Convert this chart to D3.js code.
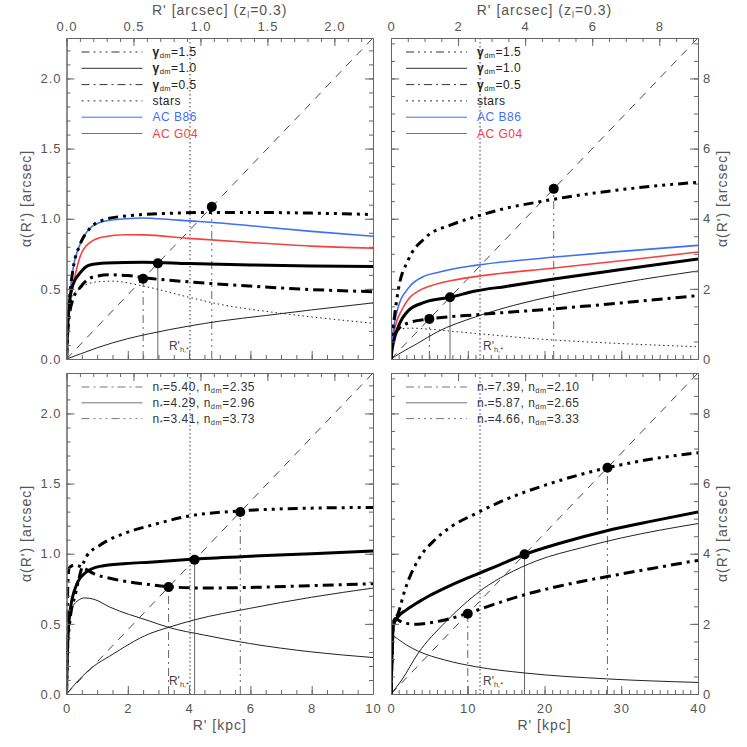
<!DOCTYPE html>
<html>
<head>
<meta charset="utf-8">
<script src="https://cdn.jsdelivr.net/npm/d3@7"></script>
<style>
  body { margin: 0; background: #fff; }
  text { font-family: "Liberation Sans", Arial, sans-serif; }
  .tick text { fill: #555; font-size: 13px; letter-spacing: 1px; }
  .tick line, .domain { stroke: #666; }
</style>
</head>
<body>
<div id="chart"></div>
<script>
// kpc per arcsec at z_l = 0.3
const kpcPerArcsec = 4.37;

// tick labels
const leftKpcTicks = [0, 2, 4, 6, 8, 10];
const rightKpcTicks = [0, 10, 20, 30, 40];
const leftArcTicks = [0, 0.5, 1, 1.5, 2];
const rightArcTicks = [0, 2, 4, 6, 8];

// top-left: [R' kpc, alpha arcsec]
const tlG15 = [[0,0],[0.05,0.3],[0.11,0.46],[0.22,0.65],[0.43,0.81],[0.76,0.93],[1.19,0.99],[1.95,1.02],[2.5,1.03],[3.5,1.04],[4.7,1.045],[6,1.045],[8,1.04],[10,1.03]];
const tlG10 = [[0,0],[0.05,0.27],[0.1,0.41],[0.21,0.53],[0.43,0.61],[0.76,0.67],[1.3,0.684],[2.5,0.69],[4,0.68],[6,0.67],[8,0.663],[10,0.66]];
const tlG05 = [[0,0],[0.05,0.22],[0.2,0.42],[0.43,0.505],[0.87,0.585],[1.41,0.6],[2,0.595],[2.5,0.58],[4,0.55],[6,0.52],[8,0.495],[10,0.48]];
const tlStars = [[0,0],[0.05,0.25],[0.1,0.37],[0.2,0.45],[0.43,0.5],[1,0.55],[1.5,0.555],[2.5,0.52],[4,0.44],[5,0.39],[6.5,0.34],[8,0.3],[10,0.255]];
const tlDm = [[0,0],[0.5,0.04],[1,0.08],[2,0.145],[2.7,0.18],[4,0.235],[5,0.27],[6.5,0.31],[8,0.35],[10,0.4]];
const tlB86 = [[0,0],[0.05,0.3],[0.11,0.46],[0.22,0.65],[0.43,0.81],[0.76,0.93],[1.19,0.98],[1.95,1.0],[2.5,1.005],[3,1.0],[4,0.985],[5,0.97],[6,0.95],[8,0.91],[10,0.875]];
const tlG04 = [[0,0],[0.05,0.25],[0.11,0.39],[0.22,0.53],[0.43,0.72],[0.76,0.83],[1.19,0.87],[1.95,0.886],[2.5,0.885],[4,0.86],[6,0.83],[8,0.805],[10,0.79]];
const tlEinstein = [2.5, 2.98, 4.74];   // gamma 0.5, 1.0, 1.5

// top-right
const trG15 = [[0,0],[0.1,0.5],[0.3,0.92],[0.95,1.97],[2.26,2.83],[4.43,3.45],[7.9,3.83],[10.9,4.05],[15,4.3],[19,4.47],[23,4.62],[30,4.83],[40,5.04]];
const trG10 = [[0,0],[0.1,0.2],[0.3,0.45],[0.95,0.92],[2.26,1.38],[4.43,1.62],[7.7,1.76],[11,1.94],[15,2.07],[21.2,2.28],[30,2.55],[40,2.85]];
const trG05 = [[0,0],[0.1,0.35],[0.3,0.6],[0.95,0.85],[2.26,1.03],[5,1.14],[11,1.26],[21.2,1.43],[30,1.6],[40,1.81]];
const trStars = [[0,0],[0.1,0.4],[0.5,0.75],[1.3,0.86],[2.5,0.88],[5,0.85],[8,0.79],[11,0.73],[20,0.56],[30,0.44],[40,0.35]];
const trDm = [[0,0],[1,0.14],[3.5,0.45],[6,0.77],[11,1.2],[16,1.53],[21.2,1.8],[30,2.17],[40,2.51]];
const trB86 = [[0,0],[0.1,0.45],[0.3,0.83],[0.95,1.49],[2.26,2.02],[4.43,2.37],[6,2.46],[7.9,2.56],[11,2.67],[21,2.9],[30,3.07],[40,3.24]];
const trG04 = [[0,0],[0.1,0.35],[0.3,0.65],[0.7,1.05],[1.3,1.35],[2.3,1.72],[3.5,1.93],[5.2,2.09],[7.9,2.24],[11,2.35],[21,2.59],[30,2.8],[40,3.05]];
const trEinstein = [5.0, 7.69, 21.2];

// bottom-left
const blN540 = [[0,0],[0.02,0.5],[0.05,0.82],[0.09,0.9],[0.27,0.92],[0.54,0.9],[0.87,0.86],[1.52,0.82],[2.71,0.78],[3.33,0.765],[4.5,0.755],[6,0.76],[8,0.772],[10,0.786]];
const blN429 = [[0,0],[0.03,0.3],[0.11,0.58],[0.33,0.78],[0.65,0.87],[1.09,0.91],[1.95,0.93],[2.71,0.94],[4.18,0.962],[6,0.982],[8,1.0],[10,1.02]];
const blN341 = [[0,0],[0.03,0.3],[0.1,0.5],[0.3,0.72],[0.5,0.9],[0.65,0.98],[1.09,1.06],[1.95,1.15],[2.72,1.2],[4.02,1.27],[5.67,1.305],[8,1.325],[10,1.33]];
const blStars = [[0,0],[0.03,0.3],[0.1,0.53],[0.25,0.64],[0.6,0.685],[0.9,0.675],[1.41,0.62],[2.71,0.52],[3.33,0.475],[4.5,0.42],[5.97,0.36],[8,0.3],[10,0.26]];
const blDm = [[0,0],[0.4,0.1],[0.87,0.195],[1.41,0.27],[2.71,0.43],[3.33,0.475],[4.2,0.53],[5.97,0.61],[8,0.69],[10,0.755]];
const blEinstein = [3.33, 4.18, 5.67];

// bottom-right
const brN739 = [[0,0],[0.15,1.2],[0.3,2.05],[0.6,2.15],[1.0,2.1],[1.8,2.02],[3.5,1.99],[5,2.03],[7,2.11],[10,2.3],[14,2.6],[17.4,2.83],[22,3.08],[28.2,3.35],[34,3.58],[40,3.81]];
const brN587 = [[0,0],[0.15,1.2],[0.3,1.95],[0.95,2.21],[2,2.4],[3.56,2.62],[5,2.8],[7,3.02],[9,3.22],[11,3.4],[14,3.67],[17.4,3.98],[22,4.3],[28,4.65],[34,4.93],[40,5.19]];
const brN466 = [[0,0],[0.15,1.2],[0.3,1.95],[0.95,2.31],[1.82,2.97],[3.56,3.83],[5.73,4.4],[7.9,4.78],[11,5.14],[15,5.55],[20,5.95],[28.2,6.45],[34,6.7],[40,6.88]];
const brStars = [[0,0],[0.1,0.8],[0.3,1.64],[1,1.55],[2,1.4],[3.56,1.22],[7,0.97],[11,0.78],[17.4,0.6],[28.2,0.43],[40,0.33]];
const brDm = [[0,0],[1.4,0.4],[3.56,1.17],[7,2.03],[10,2.65],[12,3.0],[15,3.4],[19,3.8],[25,4.18],[30,4.45],[35,4.67],[40,4.86]];
const brEinstein = [10.0, 17.4, 28.2];

const halfLightTop = [4.03, 11.6];
const halfLightBottom = [4.03, 11.6];

// legends
const gammaLabels = ["1.5", "1.0", "0.5"];
const leftSersic = [["5.40", "2.35"], ["4.29", "2.96"], ["3.41", "3.73"]];
const rightSersic = [["7.39", "2.10"], ["5.87", "2.65"], ["4.66", "3.33"]];

const blue = "#3f6ff5", red = "#f5413f";
const styles = {
  g15: {w: 3, dash: "10,5,3,5,3,5,3,5", c: "#000"},
  g10: {w: 3, dash: null, c: "#000"},
  g05: {w: 3, dash: "11,5,3,5", c: "#000"},
  stars: {w: 1, dash: "1.5,3", c: "#222"},
  thin: {w: 1, dash: null, c: "#222"},
  b86: {w: 1.6, dash: null, c: blue},
  g04: {w: 1.6, dash: null, c: red}
};
const vDash = {g05: "8,4,2,4", g10: null, g15: "8,4,2,4,2,4,2,4"};

const svg = d3.select("#chart").append("svg")
  .attr("width", 747).attr("height", 747);

const colL = {x0: 66.5, x1: 373}, colR = {x0: 391, x1: 698};
const rowT = {y0: 38, y1: 359}, rowB = {y0: 373, y1: 694};

const panels = [
  {id: "tl", col: colL, row: rowT, xMax: 10, kt: leftKpcTicks, km: 0.5, at: leftArcTicks, am: 0.1, fmt: ".1f", side: "left", top: true,
   curves: [[tlDm, "thin"], [tlStars, "stars"], [tlG04, "g04"], [tlB86, "b86"], [tlG05, "g05"], [tlG10, "g10"], [tlG15, "g15"]],
   re: tlEinstein, rh: halfLightTop[0]},
  {id: "tr", col: colR, row: rowT, xMax: 40, kt: rightKpcTicks, km: 1, at: rightArcTicks, am: 0.5, fmt: "d", side: "right", top: true,
   curves: [[trDm, "thin"], [trStars, "stars"], [trG04, "g04"], [trB86, "b86"], [trG05, "g05"], [trG10, "g10"], [trG15, "g15"]],
   re: trEinstein, rh: halfLightTop[1]},
  {id: "bl", col: colL, row: rowB, xMax: 10, kt: leftKpcTicks, km: 0.5, at: leftArcTicks, am: 0.1, fmt: ".1f", side: "left", top: false,
   curves: [[blDm, "thin"], [blStars, "thin"], [blN540, "g05"], [blN429, "g10"], [blN341, "g15"]],
   re: blEinstein, rh: halfLightBottom[0], sersic: leftSersic},
  {id: "br", col: colR, row: rowB, xMax: 40, kt: rightKpcTicks, km: 1, at: rightArcTicks, am: 0.5, fmt: "d", side: "right", top: false,
   curves: [[brDm, "thin"], [brStars, "thin"], [brN739, "g05"], [brN587, "g10"], [brN466, "g15"]],
   re: brEinstein, rh: halfLightBottom[1], sersic: rightSersic}
];

function subText(sel, parts) {
  // parts: [text, isSub, isBold]
  parts.forEach(([t, sub, bold]) => {
    const ts = sel.append("tspan").text(t);
    if (sub) ts.attr("font-size", "0.62em").attr("baseline-shift", "-30%");
    if (bold) ts.attr("font-weight", "bold");
  });
}

panels.forEach(p => {
  const {x0, x1} = p.col, {y0, y1} = p.row;
  const arcMax = p.xMax / kpcPerArcsec;
  const xs = d3.scaleLinear().domain([0, p.xMax]).range([x0, x1]);
  const xa = d3.scaleLinear().domain([0, arcMax]).range([x0, x1]);
  const ys = d3.scaleLinear().domain([0, arcMax]).range([y1, y0]);
  const g = svg.append("g");

  g.append("clipPath").attr("id", "clip-" + p.id)
    .append("rect").attr("x", x0).attr("y", y0).attr("width", x1 - x0).attr("height", y1 - y0);
  const plot = g.append("g").attr("clip-path", `url(#clip-${p.id})`);

  // diagonal alpha = R'
  plot.append("line")
    .attr("x1", xs(0)).attr("y1", ys(0))
    .attr("x2", xs(p.xMax)).attr("y2", ys(arcMax))
    .attr("stroke", "#333").attr("stroke-width", 0.9).attr("stroke-dasharray", "8,7");

  // half-light radius
  plot.append("line")
    .attr("x1", xs(p.rh)).attr("x2", xs(p.rh)).attr("y1", y0).attr("y2", y1)
    .attr("stroke", "#222").attr("stroke-width", 0.9).attr("stroke-dasharray", "1.5,2.5");
  const rhText = g.append("text")
    .attr("x", p.side === "left" ? xs(p.rh) - 1 : xs(p.rh) + 3)
    .attr("y", y1 - 9)
    .attr("text-anchor", p.side === "left" ? "end" : "start")
    .attr("font-size", 12).attr("fill", "#444");
  subText(rhText, [["R'"], ["h,*", true]]);

  // Einstein radius drop lines
  const order = ["g05", "g10", "g15"];
  p.re.forEach((r, i) => {
    plot.append("line")
      .attr("x1", xs(r)).attr("x2", xs(r)).attr("y1", ys(0)).attr("y2", ys(r / kpcPerArcsec))
      .attr("stroke", "#666").attr("stroke-width", 1)
      .attr("stroke-dasharray", vDash[order[i]]);
  });

  // curves
  const line = d3.line().x(d => xs(d[0])).y(d => ys(d[1])).curve(d3.curveMonotoneX);
  p.curves.forEach(([data, key]) => {
    const s = styles[key];
    plot.append("path").datum(data)
      .attr("d", line).attr("fill", "none")
      .attr("stroke", s.c).attr("stroke-width", s.w)
      .attr("stroke-dasharray", s.dash);
  });

  // Einstein radius points
  g.selectAll("circle.re").data(p.re).join("circle")
    .attr("cx", d => xs(d)).attr("cy", d => ys(d / kpcPerArcsec)).attr("r", 5).attr("fill", "#000");

  // axes
  const minorK = d3.range(0, p.xMax + 1e-6, p.km);
  const minorA = d3.range(0, arcMax, p.am);
  const fmt = d3.format(p.fmt);
  const add = (axis, tx, ty) => g.append("g").attr("transform", `translate(${tx},${ty})`).call(axis);

  add(d3.axisBottom(xs).tickValues(minorK).tickSize(-4).tickSizeOuter(0).tickFormat(""), 0, y1);
  add(d3.axisBottom(xs).tickValues(p.kt).tickSize(-8).tickSizeOuter(0).tickPadding(10)
    .tickFormat(p.top ? "" : d3.format("d")), 0, y1);
  add(d3.axisTop(xa).tickValues(minorA).tickSize(-4).tickSizeOuter(0).tickFormat(""), 0, y0);
  add(d3.axisTop(xa).tickValues(p.at).tickSize(-8).tickSizeOuter(0).tickPadding(7)
    .tickFormat(p.top ? fmt : ""), 0, y0);
  add(d3.axisLeft(ys).tickValues(minorA).tickSize(-4).tickSizeOuter(0).tickFormat(""), x0, 0);
  add(d3.axisLeft(ys).tickValues(p.at).tickSize(-8).tickSizeOuter(0).tickPadding(5)
    .tickFormat(p.side === "left" ? fmt : ""), x0, 0);
  add(d3.axisRight(ys).tickValues(minorA).tickSize(-4).tickSizeOuter(0).tickFormat(""), x1, 0);
  add(d3.axisRight(ys).tickValues(p.at).tickSize(-8).tickSizeOuter(0).tickPadding(5)
    .tickFormat(p.side === "right" ? fmt : ""), x1, 0);

  const cx = (x0 + x1) / 2, cy = (y0 + y1) / 2;
  // y title
  const yt = g.append("text")
    .attr("transform", `translate(${p.side === "left" ? 31 : 727},${cy}) rotate(-90)`)
    .attr("text-anchor", "middle").attr("font-size", 14).attr("fill", "#555").attr("letter-spacing", 1);
  subText(yt, [["α(R') [arcsec]"]]);

  if (p.top) {
    const tt = g.append("text").attr("x", cx).attr("y", 15)
      .attr("text-anchor", "middle").attr("font-size", 14).attr("fill", "#555").attr("letter-spacing", 1);
    subText(tt, [["R' [arcsec] (z"], ["l", true], ["=0.3)"]]);
  } else {
    g.append("text").attr("x", cx).attr("y", 730)
      .attr("text-anchor", "middle").attr("font-size", 14).attr("fill", "#555").attr("letter-spacing", 1)
      .text("R' [kpc]");
  }

  // legend
  const lx0 = x0 + 15, lx1 = x0 + 76, tx = x0 + 86;
  if (p.top) {
    const rows = [
      ["g15", "#222", [["γ", false, true], ["dm", true], ["=" + gammaLabels[0]]]],
      ["g10", "#222", [["γ", false, true], ["dm", true], ["=" + gammaLabels[1]]]],
      ["g05", "#222", [["γ", false, true], ["dm", true], ["=" + gammaLabels[2]]]],
      ["stars", "#222", [["stars"]]],
      ["b86", blue, [["AC B86"]]],
      ["g04", red, [["AC G04"]]]
    ];
    rows.forEach(([key, col, parts], i) => {
      const y = y0 + 14 + i * 16.3;
      g.append("line").attr("x1", lx0).attr("x2", lx1).attr("y1", y).attr("y2", y)
        .attr("stroke", key === "b86" ? blue : key === "g04" ? red : "#333")
        .attr("stroke-width", 1)
        .attr("stroke-dasharray", key === "stars" ? "2,4" : vDash[key] || null);
      const t = g.append("text").attr("x", tx).attr("y", y + 4)
        .attr("font-size", 12).attr("fill", col).attr("letter-spacing", 0.5);
      subText(t, parts);
    });
  } else {
    const keys = ["g05", "g10", "g15"];
    p.sersic.forEach(([ns, nd], i) => {
      const y = y0 + 14 + i * 15.8;
      g.append("line").attr("x1", lx0).attr("x2", lx1).attr("y1", y).attr("y2", y)
        .attr("stroke", "#777").attr("stroke-width", 1)
        .attr("stroke-dasharray", vDash[keys[i]]);
      const t = g.append("text").attr("x", tx).attr("y", y + 4)
        .attr("font-size", 12).attr("fill", "#333").attr("letter-spacing", 0.5);
      subText(t, [["n"], ["*", true], ["=" + ns + ", n"], ["dm", true], ["=" + nd]]);
    });
  }
});
</script>
</body>
</html>
